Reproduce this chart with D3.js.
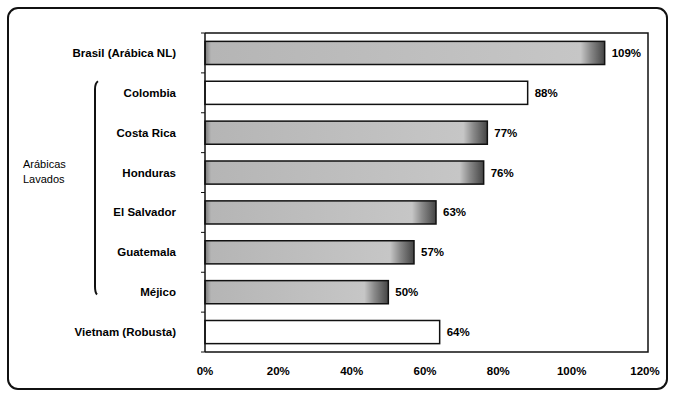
<!DOCTYPE html>
<html>
<head>
<meta charset="utf-8">
<script src="https://cdn.jsdelivr.net/npm/d3@7"></script>
<style>
  body { margin: 0; background: #fff; }
  svg { font-family: Arial, "Liberation Sans", sans-serif; }
</style>
</head>
<body>
<svg width="674" height="395"></svg>
<script>
// data
const categories = ['Brasil (Arábica NL)', 'Colombia', 'Costa Rica', 'Honduras',
  'El Salvador', 'Guatemala', 'Méjico', 'Vietnam (Robusta)'];
const values = [109, 88, 77, 76, 63, 57, 50, 64];
const hollow = [false, true, false, false, false, false, false, true];
const xTicks = [0, 20, 40, 60, 80, 100, 120];
const groupLabel = ['Arábicas', 'Lavados'];
const groupMembers = ['Colombia', 'Méjico'];

const svg = d3.select('svg');

// outer rounded frame
svg.append('rect')
  .attr('x', 8).attr('y', 8)
  .attr('width', 659).attr('height', 381)
  .attr('rx', 10)
  .attr('fill', 'none')
  .attr('stroke', '#111')
  .attr('stroke-width', 2);

const plotLeft = 205, plotRight = 648, plotTop = 33, plotBottom = 352;

const x = d3.scaleLinear().domain([0, 120]).range([plotLeft, plotLeft + 440]);
const y = d3.scaleBand().domain(categories).range([plotTop, plotBottom]).paddingInner(0.42).paddingOuter(0.21);

// one gradient per grey bar so the dark right end keeps a fixed width
const defs = svg.append('defs');
categories.forEach((c, i) => {
  if (hollow[i]) return;
  const x0 = x(0), x1 = x(values[i]), w = x1 - x0;
  const g = defs.append('linearGradient').attr('id', 'barGrad' + i)
    .attr('gradientUnits', 'userSpaceOnUse')
    .attr('x1', x0).attr('x2', x1).attr('y1', 0).attr('y2', 0);
  g.append('stop').attr('offset', 0).attr('stop-color', '#7a7a7a');
  g.append('stop').attr('offset', 6 / w).attr('stop-color', '#b5b5b5');
  g.append('stop').attr('offset', (w - 24) / w).attr('stop-color', '#c6c6c6');
  g.append('stop').attr('offset', (w - 14) / w).attr('stop-color', '#8a8a8a');
  g.append('stop').attr('offset', 1).attr('stop-color', '#444');
});

// plot box (top, right, bottom)
svg.append('path')
  .attr('d', `M${plotLeft},${plotTop}H${plotRight}V${plotBottom}H${plotLeft}`)
  .attr('fill', 'none')
  .attr('stroke', '#111')
  .attr('stroke-width', 1.5);

// bars
svg.selectAll('rect.bar')
  .data(categories)
  .join('rect')
  .attr('class', 'bar')
  .attr('x', x(0))
  .attr('y', d => y(d))
  .attr('width', (d, i) => x(values[i]) - x(0))
  .attr('height', y.bandwidth())
  .attr('fill', (d, i) => hollow[i] ? '#fff' : `url(#barGrad${i})`)
  .attr('stroke', '#111')
  .attr('stroke-width', 1.5);

// value labels
svg.selectAll('text.val')
  .data(categories)
  .join('text')
  .attr('class', 'val')
  .attr('x', (d, i) => x(values[i]) + 7)
  .attr('y', d => y(d) + y.bandwidth() / 2)
  .attr('dy', '0.35em')
  .attr('font-size', 11.5)
  .attr('font-weight', 'bold')
  .text((d, i) => values[i] + '%');

// left axis line with ticks between categories
const yAxis = svg.append('g');
yAxis.append('line')
  .attr('x1', plotLeft).attr('x2', plotLeft)
  .attr('y1', plotTop).attr('y2', plotBottom)
  .attr('stroke', '#111').attr('stroke-width', 1.5);
const step = (plotBottom - plotTop) / categories.length;
yAxis.selectAll('line.tk')
  .data(d3.range(categories.length + 1))
  .join('line')
  .attr('class', 'tk')
  .attr('x1', plotLeft - 4).attr('x2', plotLeft)
  .attr('y1', d => plotTop + d * step).attr('y2', d => plotTop + d * step)
  .attr('stroke', '#111');

// category labels
svg.selectAll('text.cat')
  .data(categories)
  .join('text')
  .attr('class', 'cat')
  .attr('x', 176)
  .attr('y', d => y(d) + y.bandwidth() / 2)
  .attr('dy', '0.35em')
  .attr('text-anchor', 'end')
  .attr('font-size', 11.5)
  .attr('font-weight', 'bold')
  .text(d => d);

// x axis tick labels
svg.selectAll('text.xt')
  .data(xTicks)
  .join('text')
  .attr('class', 'xt')
  .attr('x', d => x(d))
  .attr('y', 375)
  .attr('text-anchor', 'middle')
  .attr('font-size', 11.5)
  .attr('font-weight', 'bold')
  .text(d => d + '%');

// bracket for the washed arabicas group
const by1 = y(groupMembers[0]);
const by2 = y(groupMembers[1]) + y.bandwidth() * 0.6;
svg.append('path')
  .attr('d', `M98,${by1} Q95,${by1 + 2} 95,${by1 + 8} V${by2 - 8} Q95,${by2 - 2} 97,${by2}`)
  .attr('fill', 'none')
  .attr('stroke', '#111')
  .attr('stroke-width', 2);

svg.selectAll('text.grp')
  .data(groupLabel)
  .join('text')
  .attr('class', 'grp')
  .attr('x', 23)
  .attr('y', (d, i) => 168 + i * 15)
  .attr('font-size', 11)
  .text(d => d);
</script>
</body>
</html>
